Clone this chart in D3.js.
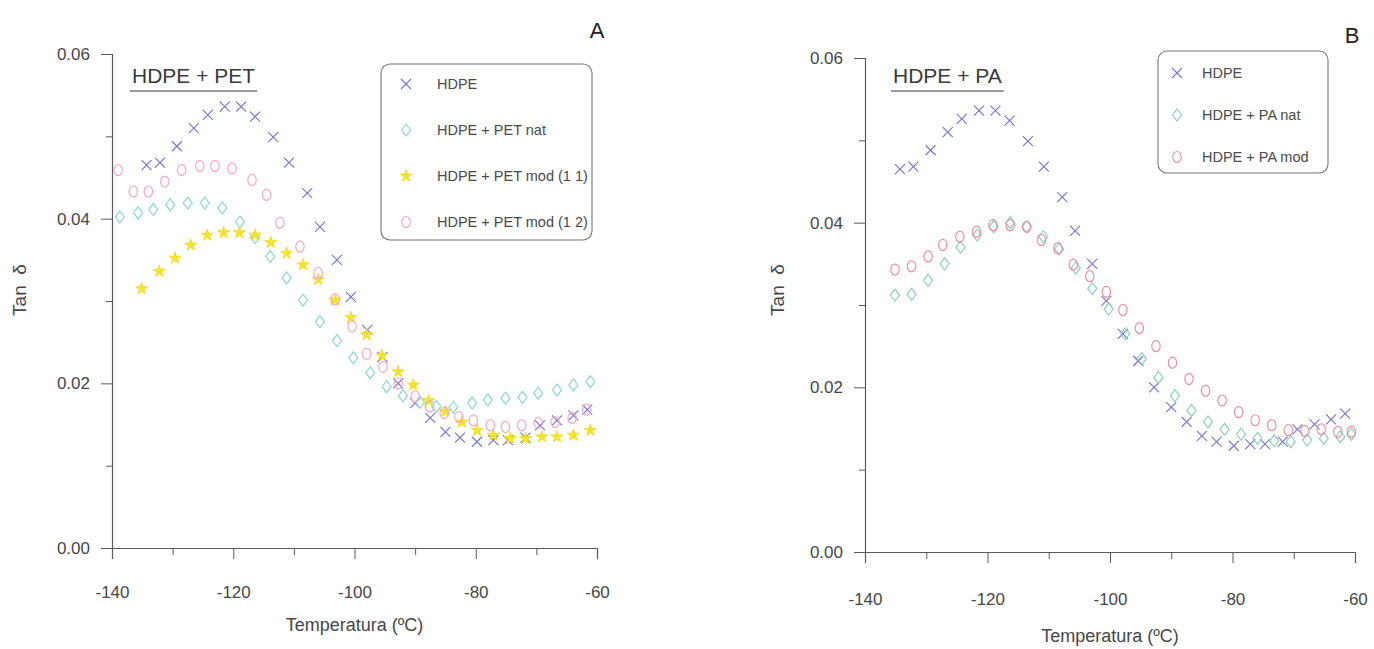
<!DOCTYPE html>
<html>
<head>
<meta charset="utf-8">
<script src="https://cdn.jsdelivr.net/npm/d3@7"></script>
<style>
  html, body { margin: 0; padding: 0; background: #ffffff; }
  svg { display: block; font-family: "Liberation Sans", Arial, sans-serif; }
</style>
</head>
<body>
<svg id="chart" width="1374" height="649"></svg>
<script>
// ---------- DATA ----------
const xTicks = [-140, -120, -100, -80, -60];
const yTicks = [0.00, 0.02, 0.04, 0.06];

// HDPE (used in both panels)
const hdpeT = [-134.3, -132.1, -129.3, -126.5, -124.2, -121.4, -118.7, -116.4, -113.4, -110.8, -107.8, -105.7, -102.9, -100.6, -97.9, -95.4, -92.8, -90.0, -87.5, -85.0, -82.6, -79.8, -77.1, -74.7, -71.8, -69.4, -66.6, -63.9, -61.6];
const hdpeV = [0.0465, 0.0468, 0.0488, 0.0510, 0.0526, 0.0536, 0.0536, 0.0524, 0.0499, 0.0468, 0.0431, 0.0390, 0.0350, 0.0305, 0.0265, 0.0232, 0.0200, 0.0176, 0.0158, 0.0141, 0.0134, 0.0129, 0.0131, 0.0131, 0.0134, 0.0149, 0.0155, 0.0161, 0.0168];

// HDPE + PET nat
const petNatT = [-138.7, -135.7, -133.2, -130.4, -127.5, -124.7, -121.8, -118.9, -116.4, -113.9, -111.2, -108.5, -105.7, -102.9, -100.2, -97.4, -94.7, -92.0, -89.2, -86.5, -83.7, -80.6, -78.0, -75.1, -72.3, -69.7, -66.6, -63.9, -61.1];
const petNatV = [0.0402, 0.0407, 0.0411, 0.0417, 0.0419, 0.0419, 0.0413, 0.0396, 0.0377, 0.0354, 0.0328, 0.0301, 0.0275, 0.0252, 0.0231, 0.0213, 0.0196, 0.0185, 0.0177, 0.0172, 0.0171, 0.0176, 0.0180, 0.0182, 0.0183, 0.0188, 0.0192, 0.0198, 0.0202];

// HDPE + PET mod (1 1)
const petMod11T = [-135.1, -132.2, -129.6, -127.0, -124.3, -121.6, -119.0, -116.4, -113.8, -111.2, -108.5, -106.0, -103.2, -100.6, -98.0, -95.5, -92.8, -90.3, -87.8, -85.0, -82.3, -79.8, -77.1, -74.3, -71.8, -69.1, -66.6, -63.9, -61.1];
const petMod11V = [0.0315, 0.0336, 0.0352, 0.0368, 0.0380, 0.0383, 0.0383, 0.0380, 0.0371, 0.0358, 0.0344, 0.0326, 0.0301, 0.0280, 0.0259, 0.0234, 0.0214, 0.0198, 0.0179, 0.0166, 0.0153, 0.0143, 0.0137, 0.0133, 0.0133, 0.0135, 0.0135, 0.0137, 0.0143];

// HDPE + PET mod (1 2)
const petMod12T = [-139.0, -136.5, -134.0, -131.3, -128.5, -125.5, -123.0, -120.2, -116.9, -114.5, -112.3, -109.0, -106.0, -103.2, -100.4, -98.0, -95.3, -92.8, -90.0, -87.6, -85.2, -82.8, -80.4, -77.6, -75.1, -72.4, -69.7, -66.9, -64.1, -61.7];
const petMod12V = [0.0459, 0.0433, 0.0433, 0.0445, 0.0459, 0.0464, 0.0464, 0.0461, 0.0447, 0.0429, 0.0395, 0.0366, 0.0334, 0.0302, 0.0269, 0.0236, 0.0220, 0.0200, 0.0184, 0.0172, 0.0164, 0.0159, 0.0155, 0.0149, 0.0147, 0.0149, 0.0152, 0.0153, 0.0158, 0.0168];

// HDPE + PA nat
const paNatT = [-135.1, -132.4, -129.7, -127.0, -124.4, -121.7, -119.0, -116.3, -113.6, -110.9, -108.3, -105.6, -102.9, -100.2, -97.5, -94.8, -92.1, -89.4, -86.7, -84.0, -81.3, -78.6, -75.9, -73.2, -70.5, -67.8, -65.1, -62.4, -60.6];
const paNatV = [0.0312, 0.0313, 0.0330, 0.0350, 0.0370, 0.0385, 0.0395, 0.0400, 0.0395, 0.0383, 0.0368, 0.0345, 0.0320, 0.0295, 0.0265, 0.0235, 0.0212, 0.0190, 0.0172, 0.0158, 0.0149, 0.0143, 0.0138, 0.0135, 0.0134, 0.0136, 0.0138, 0.0140, 0.0143];

// HDPE + PA mod
const paModT = [-135.1, -132.4, -129.7, -127.3, -124.5, -121.8, -119.1, -116.3, -113.6, -111.2, -108.5, -106.0, -103.3, -100.6, -97.9, -95.2, -92.5, -89.8, -87.1, -84.4, -81.7, -79.0, -76.3, -73.6, -70.9, -68.2, -65.5, -62.8, -60.6];
const paModV = [0.0343, 0.0347, 0.0359, 0.0373, 0.0383, 0.0389, 0.0397, 0.0397, 0.0395, 0.0379, 0.0369, 0.0349, 0.0335, 0.0316, 0.0294, 0.0272, 0.0250, 0.0230, 0.0210, 0.0196, 0.0184, 0.0170, 0.0160, 0.0154, 0.0148, 0.0147, 0.0149, 0.0146, 0.0146];

const seriesA = [
  { name: "HDPE", T: hdpeT, V: hdpeV, shape: "x", color: "#7878cf" },
  { name: "HDPE + PET nat", T: petNatT, V: petNatV, shape: "diamond", color: "#8cd8d2" },
  { name: "HDPE + PET mod (1 1)", T: petMod11T, V: petMod11V, shape: "star", color: "#f4e430" },
  { name: "HDPE + PET mod (1 2)", T: petMod12T, V: petMod12V, shape: "oval", color: "#f2a8c6" }
];
const seriesB = [
  { name: "HDPE", T: hdpeT, V: hdpeV, shape: "x", color: "#7878cf" },
  { name: "HDPE + PA nat", T: paNatT, V: paNatV, shape: "diamond", color: "#8fd0b8" },
  { name: "HDPE + PA mod", T: paModT, V: paModV, shape: "oval", color: "#ea90a2" }
];

// ---------- DRAWING ----------
const svg = d3.select("#chart");
const TEXT = "#474747";
const AXIS = "#5a5a5a";

function drawMarker(g, shape, color, cx, cy) {
  if (shape === "x") {
    const s = 5;
    g.append("path")
      .attr("d", `M${cx - s},${cy - s}L${cx + s},${cy + s}M${cx + s},${cy - s}L${cx - s},${cy + s}`)
      .attr("stroke", color).attr("stroke-width", 1.2).attr("fill", "none");
  } else if (shape === "diamond") {
    g.append("path")
      .attr("d", `M${cx},${cy - 6}L${cx + 4.5},${cy}L${cx},${cy + 6}L${cx - 4.5},${cy}Z`)
      .attr("stroke", color).attr("stroke-width", 1.2).attr("fill", "none");
  } else if (shape === "star") {
    g.append("path")
      .attr("d", d3.symbol().type(d3.symbolStar).size(46)())
      .attr("transform", `translate(${cx},${cy})`)
      .attr("fill", color).attr("stroke", "#eedc20").attr("stroke-width", 0.8);
  } else if (shape === "oval") {
    g.append("ellipse")
      .attr("cx", cx).attr("cy", cy).attr("rx", 4.2).attr("ry", 5.5)
      .attr("stroke", color).attr("stroke-width", 1.2).attr("fill", "none");
  }
}

function drawPanel(cfg) {
  const x = d3.scaleLinear().domain([-140, -60]).range([cfg.x0, cfg.x1]);
  const y = d3.scaleLinear().domain([0, 0.06]).range([cfg.y0, cfg.y1]);
  const g = svg.append("g");

  // X axis
  const xAxis = d3.axisBottom(x).tickValues(xTicks).tickSize(11).tickPadding(cfg.xPad)
    .tickFormat(d => String(d));
  const gx = g.append("g").attr("transform", `translate(0,${cfg.y0})`).call(xAxis);
  gx.select(".domain").attr("stroke", AXIS).attr("stroke-width", 1.2);
  gx.selectAll(".tick line").attr("stroke", AXIS).attr("stroke-width", 1);
  gx.selectAll(".tick text").attr("fill", TEXT).attr("font-size", 17).attr("dy", "0.9em");
  const gxm = g.append("g").attr("transform", `translate(0,${cfg.y0})`)
    .call(d3.axisBottom(x).tickValues([-130, -110, -90, -70]).tickSize(7).tickFormat(""));
  gxm.select(".domain").remove();
  gxm.selectAll(".tick line").attr("stroke", AXIS).attr("stroke-width", 1);

  // Y axis
  const yAxis = d3.axisLeft(y).tickValues(yTicks).tickSize(11).tickPadding(11)
    .tickFormat(d3.format(".2f"));
  const gy = g.append("g").attr("transform", `translate(${cfg.x0},0)`).call(yAxis);
  gy.select(".domain").attr("stroke", AXIS).attr("stroke-width", 1.2);
  gy.selectAll(".tick line").attr("stroke", AXIS).attr("stroke-width", 1);
  gy.selectAll(".tick text").attr("fill", TEXT).attr("font-size", 17);
  const gym = g.append("g").attr("transform", `translate(${cfg.x0},0)`)
    .call(d3.axisLeft(y).tickValues([0.01, 0.03, 0.05]).tickSize(6).tickFormat(""));
  gym.select(".domain").remove();
  gym.selectAll(".tick line").attr("stroke", AXIS).attr("stroke-width", 1);

  // Axis titles
  g.append("text").attr("x", (cfg.x0 + cfg.x1) / 2).attr("y", cfg.xTitleY)
    .attr("text-anchor", "middle").attr("fill", TEXT).attr("font-size", 18)
    .text("Temperatura (ºC)");
  g.append("text")
    .attr("transform", `translate(${cfg.yTitleX},${cfg.yTitleY}) rotate(-90)`)
    .attr("text-anchor", "middle").attr("fill", TEXT).attr("font-size", 19)
    .attr("xml:space", "preserve")
    .text("Tan  δ");

  // Panel letter
  g.append("text").attr("x", cfg.letterX).attr("y", cfg.letterY)
    .attr("text-anchor", "middle").attr("fill", "#222").attr("font-size", 22)
    .text(cfg.letter);

  // Subtitle with underline
  const sub = g.append("text").attr("x", cfg.subX).attr("y", cfg.subY)
    .attr("fill", "#3a3a3a").attr("font-size", 21).text(cfg.subtitle);
  const w = sub.node().getComputedTextLength();
  g.append("line").attr("x1", cfg.subX - 2).attr("x2", cfg.subX + w + 2)
    .attr("y1", cfg.subY + 8).attr("y2", cfg.subY + 8)
    .attr("stroke", "#777").attr("stroke-width", 1.6);

  // Data markers
  cfg.series.forEach(s => {
    const sg = g.append("g");
    s.T.forEach((t, i) => drawMarker(sg, s.shape, s.color, x(t), y(s.V[i])));
  });

  // Legend
  const L = cfg.legend;
  g.append("rect").attr("x", L.x).attr("y", L.y).attr("width", L.w).attr("height", L.h)
    .attr("rx", 9).attr("ry", 9).attr("fill", "none")
    .attr("stroke", "#777").attr("stroke-width", 1.1);
  cfg.series.forEach((s, i) => {
    const yy = L.firstY + i * L.step;
    drawMarker(g, s.shape, s.color, L.symX, yy);
    g.append("text").attr("x", L.textX).attr("y", yy + 5)
      .attr("fill", "#4a4a4a").attr("font-size", 14.5).text(s.name);
  });
}

drawPanel({
  x0: 112, x1: 597, y0: 548, y1: 54, xPad: 24,
  xTitleY: 631, yTitleX: 26, yTitleY: 290,
  letter: "A", letterX: 597, letterY: 38,
  subtitle: "HDPE + PET", subX: 132, subY: 83,
  series: seriesA,
  legend: { x: 381, y: 64, w: 211, h: 176, firstY: 84, step: 46, symX: 406, textX: 437 }
});

drawPanel({
  x0: 865, x1: 1355, y0: 552, y1: 58, xPad: 27,
  xTitleY: 642, yTitleX: 784, yTitleY: 290,
  letter: "B", letterX: 1352, letterY: 43,
  subtitle: "HDPE + PA", subX: 893, subY: 83,
  series: seriesB,
  legend: { x: 1158, y: 51, w: 170, h: 122, firstY: 73, step: 42, symX: 1177, textX: 1202 }
});
</script>
</body>
</html>
